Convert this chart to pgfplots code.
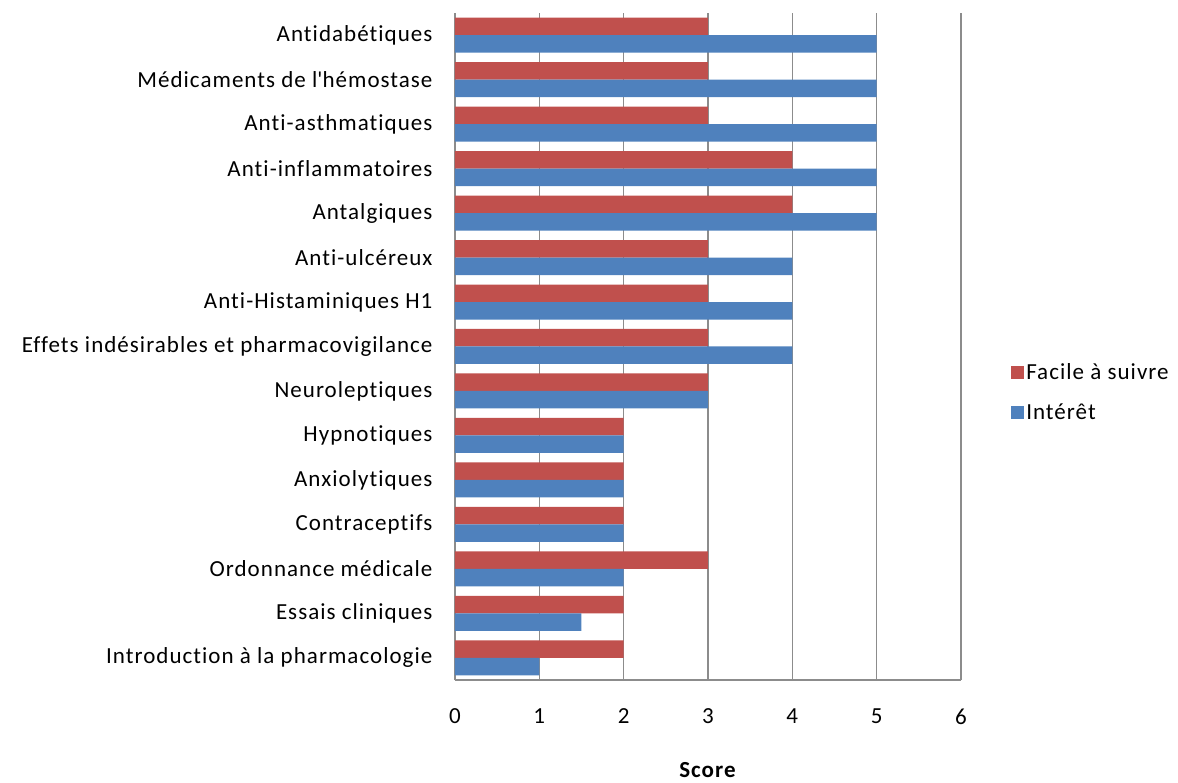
\documentclass[border=0pt]{standalone}
\usepackage{pgfplots}
\pgfplotsset{compat=1.18}
\usepackage{fontspec}
\setmainfont{Carlito}[Ligatures=NoCommon, LetterSpace=4.5]
\definecolor{facile}{HTML}{C0504D}
\definecolor{interet}{HTML}{4F81BD}
\definecolor{gridgray}{HTML}{8C8C8C}

\begin{document}
\begin{tikzpicture}
\useasboundingbox (-455pt,-102pt) rectangle (723pt,680pt);
\begin{axis}[
  at={(0,0)}, anchor=south west,
  scale only axis,
  width=506pt, height=667pt,
  xmin=0, xmax=6,
  ymin=-0.5, ymax=14.5,
  xtick={0,1,...,6},
  ytick={0,1,...,14},
  yticklabels={Introduction à la pharmacologie, Essais cliniques, Ordonnance médicale, Contraceptifs, Anxiolytiques\ , Hypnotiques, Neuroleptiques, Effets indésirables et pharmacovigilance, Anti-Histaminiques H1, Anti-ulcéreux, Antalgiques, Anti-inflammatoires, Anti-asthmatiques, Médicaments de l\textquotesingle hémostase, Antidabétiques},
  axis x line*=bottom,
  axis y line*=left,
  axis line style={draw=gridgray, line width=1.2pt, -},
  major tick length=0pt,
  xmajorgrids=true,
  grid style={draw=gridgray, line width=1.2pt},
  font=\fontsize{23}{27}\selectfont,
  /pgf/number format/assume math mode=true,
  xticklabel style={yshift=-25pt},
  yticklabel style={xshift=-19pt},
  xlabel={\textbf{Score}},
  xlabel style={yshift=-31pt},
  xbar,
  bar width=17.5pt,
  legend style={at={(1.093,0.431)}, anchor=west, draw=none, fill=none,
    font=\fontsize{23}{27}\selectfont, row sep=19pt,
    /tikz/every even column/.append style={column sep=6pt}},
  legend cell align=left,
  legend image code/.code={\fill[#1] (0pt,-6.5pt) rectangle (13pt,6.5pt);},
]
\addplot[draw=none, fill=facile, bar shift=8.75pt] coordinates {
  (2,0) (2,1) (3,2) (2,3) (2,4) (2,5) (3,6) (3,7) (3,8) (3,9) (4,10) (4,11) (3,12) (3,13) (3,14)
};
\addplot[draw=none, fill=interet, bar shift=-8.75pt] coordinates {
  (1,0) (1.5,1) (2,2) (2,3) (2,4) (2,5) (3,6) (4,7) (4,8) (4,9) (5,10) (5,11) (5,12) (5,13) (5,14)
};
\legend{Facile à suivre, Intérêt}
\end{axis}
\end{tikzpicture}
\end{document}
